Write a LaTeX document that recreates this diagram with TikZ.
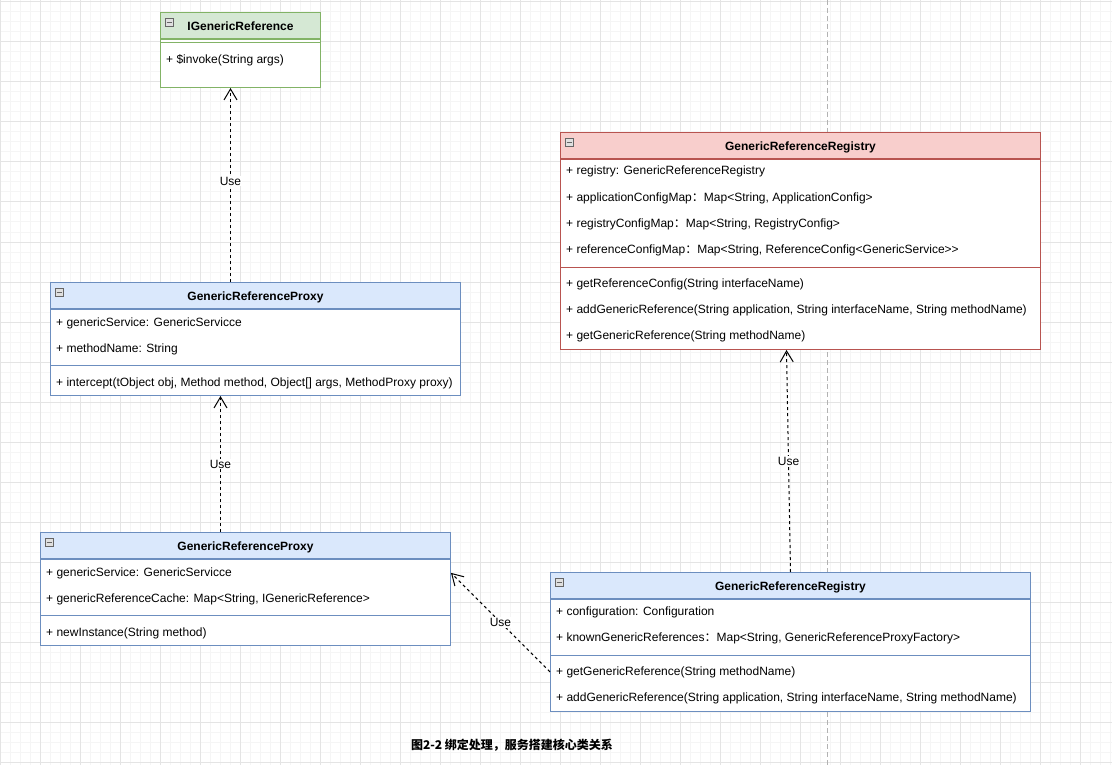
\documentclass[tikz,border=0pt]{standalone}
\usepackage{fontspec}
\setmainfont{Liberation Sans}
\newfontfamily\cjk{Noto Sans CJK SC}
\usetikzlibrary{arrows.meta}

\definecolor{gruenF}{HTML}{D5E8D4}
\definecolor{gruenR}{HTML}{82B366}
\definecolor{blauF}{HTML}{DAE8FC}
\definecolor{blauR}{HTML}{6C8EBF}
\definecolor{rotF}{HTML}{F8CECC}
\definecolor{rotR}{HTML}{B85450}
\definecolor{gitterA}{HTML}{E4E4E4}
\definecolor{gitterB}{HTML}{F5F5F5}

\tikzset{
  kopf/.style n args={2}{draw=#1R, fill=#1F, line width=1pt, minimum width=#2,
    minimum height=26pt, inner sep=0pt, text height=11.6pt, text depth=2pt, anchor=north west,
    font=\fontsize{12}{14}\selectfont\bfseries},
  rumpf/.style n args={3}{draw=#1R, fill=white, line width=1pt, minimum width=#2,
    minimum height=#3, inner sep=0pt, anchor=north west},
  trenn/.style={draw=#1R, line width=1pt},
  zeile/.style={anchor=base west, inner sep=0pt},
  knopf/.style={draw=black!60, fill=black!12, line width=0.6pt, minimum size=8pt,
    inner sep=0pt, path picture={\draw[line width=0.8pt]
      ([xshift=1.5pt]path picture bounding box.west) -- ([xshift=-1.5pt]path picture bounding box.east);}},
  nutzt/.style={line width=1pt, dash pattern=on 3pt off 3pt,
    -{Straight Barb[length=11pt,width=13pt,line width=1pt]}},
  marke/.style={fill=white, inner sep=1pt},
}

\begin{document}
\begin{tikzpicture}[x=1pt, y=-1pt, font=\fontsize{12}{14}\selectfont]
  \useasboundingbox (0,0) rectangle (1112,765);
  \fill[white] (0,0) rectangle (1112,765);
  % Gitter
  \foreach \x in {0,10,...,1110} \draw[gitterB, line width=1pt] (\x,0) -- (\x,765);
  \foreach \y in {2,12,...,762} \draw[gitterB, line width=1pt] (0,\y) -- (1112,\y);
  \foreach \x in {0,40,...,1110} \draw[gitterA, line width=1pt] (\x,0) -- (\x,765);
  \foreach \y in {2,42,...,762} \draw[gitterA, line width=1pt] (0,\y) -- (1112,\y);
  \draw[black!30, line width=1pt, dash pattern=on 5pt off 3pt] (827,0) -- (827,765);

  % IGenericReference
  \node[kopf={gruen}{160pt}] (irefKopf) at (160,12) {IGenericReference};
  \node[rumpf={gruen}{160pt}{48pt}] (irefRumpf) at (irefKopf.south west) {};
  \draw[trenn=gruen] ([yshift=-4pt]irefRumpf.north west) -- ([yshift=-4pt]irefRumpf.north east);
  \node[zeile] (irefM1) at (166,64) {+ \$invoke(String args)};
  \node[knopf] (irefKnopf) at ([shift={(9pt,-10pt)}]irefKopf.north west) {};

  % GenericReferenceProxy oben
  \node[kopf={blau}{410pt}] (proxAKopf) at (50,282) {GenericReferenceProxy};
  \node[rumpf={blau}{410pt}{86pt}] (proxARumpf) at (proxAKopf.south west) {};
  \draw[trenn=blau] ([yshift=-56pt]proxARumpf.north west) -- ([yshift=-56pt]proxARumpf.north east);
  \node[zeile] (proxAa1) at (56,326) {+ genericService: GenericServicce};
  \node[zeile] (proxAa2) at (56,352) {+ methodName: String};
  \node[zeile] (proxAm1) at (56,386) {+ intercept(tObject obj, Method method, Object[] args, MethodProxy proxy)};
  \node[knopf] (proxAKnopf) at ([shift={(9pt,-10pt)}]proxAKopf.north west) {};

  % GenericReferenceRegistry oben
  \node[kopf={rot}{480pt}] (regAKopf) at (560,132) {GenericReferenceRegistry};
  \node[rumpf={rot}{480pt}{190pt}] (regARumpf) at (regAKopf.south west) {};
  \draw[trenn=rot] ([yshift=-108pt]regARumpf.north west) -- ([yshift=-108pt]regARumpf.north east);
  \node[zeile] (regAa1) at (566,175) {+ registry: GenericReferenceRegistry};
  \node[zeile] (regAa2) at (566,201) {+ applicationConfigMap{\cjk ：}Map<String, ApplicationConfig>};
  \node[zeile] (regAa3) at (566,227) {+ registryConfigMap{\cjk ：}Map<String, RegistryConfig>};
  \node[zeile] (regAa4) at (566,253) {+ referenceConfigMap{\cjk ：}Map<String, ReferenceConfig<GenericService>{}>};
  \node[zeile] (regAm1) at (566,287) {+ getReferenceConfig(String interfaceName)};
  \node[zeile] (regAm2) at (566,313) {+ addGenericReference(String application, String interfaceName, String methodName)};
  \node[zeile] (regAm3) at (566,339) {+ getGenericReference(String methodName)};
  \node[knopf] (regAKnopf) at ([shift={(9pt,-10pt)}]regAKopf.north west) {};

  % GenericReferenceProxy unten
  \node[kopf={blau}{410pt}] (proxBKopf) at (40,532) {GenericReferenceProxy};
  \node[rumpf={blau}{410pt}{86pt}] (proxBRumpf) at (proxBKopf.south west) {};
  \draw[trenn=blau] ([yshift=-56pt]proxBRumpf.north west) -- ([yshift=-56pt]proxBRumpf.north east);
  \node[zeile] (proxBa1) at (46,576) {+ genericService: GenericServicce};
  \node[zeile] (proxBa2) at (46,602) {+ genericReferenceCache: Map<String, IGenericReference>};
  \node[zeile] (proxBm1) at (46,636) {+ newInstance(String method)};
  \node[knopf] (proxBKnopf) at ([shift={(9pt,-10pt)}]proxBKopf.north west) {};

  % GenericReferenceRegistry unten
  \node[kopf={blau}{480pt}] (regBKopf) at (550,572) {GenericReferenceRegistry};
  \node[rumpf={blau}{480pt}{112pt}] (regBRumpf) at (regBKopf.south west) {};
  \draw[trenn=blau] ([yshift=-56pt]regBRumpf.north west) -- ([yshift=-56pt]regBRumpf.north east);
  \node[zeile] (regBa1) at (556,615) {+ configuration: Configuration};
  \node[zeile] (regBa2) at (556,641) {+ knownGenericReferences{\cjk ：}Map<String, GenericReferenceProxyFactory>};
  \node[zeile] (regBm1) at (556,675) {+ getGenericReference(String methodName)};
  \node[zeile] (regBm2) at (556,701) {+ addGenericReference(String application, String interfaceName, String methodName)};
  \node[knopf] (regBKnopf) at ([shift={(9pt,-10pt)}]regBKopf.north west) {};

  % Pfeile
  \draw[nutzt] ([xshift=-25pt]proxAKopf.north) -- node[marke, pos=0.52] (use1) {Use} ([xshift=-10pt]irefRumpf.south);
  \draw[nutzt] ([xshift=-25pt]proxBKopf.north) -- node[marke] (use2) {Use} ([xshift=-35pt]proxARumpf.south);
  \draw[nutzt] (regBKopf.north) -- node[marke] (use3) {Use} ([xshift=-14pt]regARumpf.south);
  \draw[nutzt] (regBRumpf.west |- regBm1) -- node[marke] (use4) {Use} (proxBRumpf.east |- proxBa1);

  % Titel
  \node[font=\cjk\bfseries\fontsize{12}{14}\selectfont] (titel) at (512,745) {图2-2 绑定处理，服务搭建核心类关系};
\end{tikzpicture}
\end{document}
